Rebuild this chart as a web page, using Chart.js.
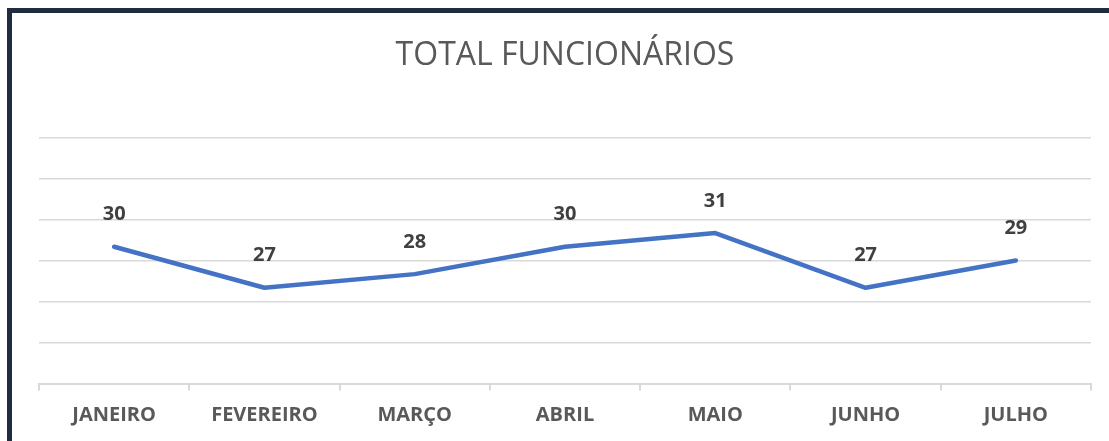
<!DOCTYPE html>
<html>
<head>
<meta charset="utf-8">
<style>
  html, body { margin: 0; padding: 0; overflow: hidden; background: #fff; }
  #frame { position: absolute; left: 7px; top: 8px; width: 1200px; height: 600px; border: 5px solid #1f2c41; }
  #wrap { position: absolute; left: 0; top: 0; width: 1109px; height: 441px; }
</style>
</head>
<body>
<div id="frame"></div>
<div id="wrap"><canvas id="lineChart"></canvas></div>
<script src="https://cdn.jsdelivr.net/npm/chart.js"></script>
<script>
    var meses = ['JANEIRO', 'FEVEREIRO', 'MARÇO', 'ABRIL', 'MAIO', 'JUNHO', 'JULHO'];
    var funcionarios = [30, 27, 28, 30, 31, 27, 29];
    var eixoMin = 20;
    var eixoMax = 38;
    var eixoPasso = 3;

    // draws the value above each point
    var rotulos = {
        id: 'rotulos',
        afterDatasetsDraw: function (chart) {
            var ctx = chart.ctx;
            var meta = chart.getDatasetMeta(0);
            ctx.save();
            ctx.font = 'bold 20px "Open Sans", sans-serif';
            ctx.fillStyle = '#404040';
            ctx.textAlign = 'center';
            ctx.textBaseline = 'middle';
            meta.data.forEach(function (pt, i) {
                ctx.fillText(String(funcionarios[i]), pt.x, pt.y - 32);
            });
            ctx.restore();
        }
    };

    var ctx = document.getElementById('lineChart').getContext('2d');
    var chart = new Chart(ctx, {
        type: 'line',
        data: {
            labels: meses,
            datasets: [{
                label: 'Total funcionários',
                data: funcionarios,
                borderColor: '#4472c4',
                borderWidth: 4.5,
                pointRadius: 0,
                borderJoinStyle: 'round',
                borderCapStyle: 'round',
                tension: 0
            }]
        },
        options: {
            responsive: true,
            maintainAspectRatio: false,
            animation: false,
            layout: { padding: { left: 39, right: 18, top: 0, bottom: 0.5 } },
            plugins: {
                legend: { display: false },
                tooltip: { enabled: false },
                title: {
                    display: true,
                    text: 'TOTAL FUNCIONÁRIOS',
                    color: '#595959',
                    font: { family: '"Open Sans", sans-serif', size: 32, weight: 'normal', lineHeight: 1.2 },
                    padding: { top: 37, bottom: 62 }
                }
            },
            scales: {
                x: {
                    offset: true,
                    grid: { offset: true, drawOnChartArea: false, drawTicks: true, tickLength: 7, color: '#d9d9d9', lineWidth: 2 },
                    border: { display: true, color: '#d9d9d9', width: 2 },
                    ticks: { color: '#595959', padding: 13, font: { family: '"Open Sans", sans-serif', size: 20, weight: 'bold' } }
                },
                y: {
                    min: eixoMin,
                    max: eixoMax,
                    ticks: { stepSize: eixoPasso, display: false },
                    grid: { color: '#d9d9d9', lineWidth: 1.5, drawTicks: false },
                    border: { display: false },
                    afterFit: function (s) { s.width = 0; }
                }
            }
        },
        plugins: [rotulos]
    });
</script>
</body>
</html>
